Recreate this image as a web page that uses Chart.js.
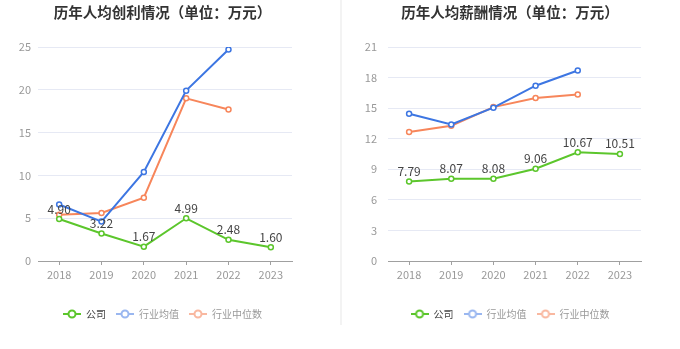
<!DOCTYPE html>
<html>
<head>
<meta charset="utf-8">
<script src="https://cdn.jsdelivr.net/npm/chart.js@4.4.1/dist/chart.umd.min.js"></script>
<style>
  html, body { margin: 0; padding: 0; background: #fff; }
  #wrap { position: relative; width: 680px; height: 349px; overflow: hidden; }
  .panel { position: absolute; top: 0; height: 349px; }
  #divider { position: absolute; left: 340px; top: 0; width: 2px; height: 325px; background: #f3f3f3; }
</style>
</head>
<body>
<div id="wrap">
  <div class="panel" style="left:0;width:325px"><canvas id="profitChart"></canvas></div>
  <div id="divider"></div>
  <div class="panel" style="left:345px;width:330px"><canvas id="salaryChart"></canvas></div>
</div>
<script>
const years = ['2018', '2019', '2020', '2021', '2022', '2023'];
const seriesNames = ['公司', '行业均值', '行业中位数'];

// 人均创利 (万元)
const profitCompany = [4.90, 3.22, 1.67, 4.99, 2.48, 1.60];
const profitIndustryAvg = [6.6, 4.6, 10.4, 19.9, 24.7, null];
const profitIndustryMedian = [5.4, 5.6, 7.4, 19.0, 17.7, null];
const profitTicks = [0, 5, 10, 15, 20, 25];

// 人均薪酬 (万元)
const salaryCompany = [7.79, 8.07, 8.08, 9.06, 10.67, 10.51];
const salaryIndustryAvg = [14.45, 13.4, 15.05, 17.2, 18.7, null];
const salaryIndustryMedian = [12.65, 13.28, 15.1, 16.0, 16.35, null];
const salaryTicks = [0, 3, 6, 9, 12, 15, 18, 21];

const COLORS = ['#5cc62c', '#3d76e2', '#f7865b'];
const LEGEND_ICON = ['#5cc62c', '#9ab7f0', '#f9b8a0'];
const LEGEND_TEXT = ['#444', '#999', '#999'];
const FONT = '"Noto Sans CJK SC", "Noto Sans", sans-serif';

// small line-with-circle icon for the legend
function legendIcon(color) {
    const c = document.createElement('canvas');
    c.width = 18; c.height = 10;
    const g = c.getContext('2d');
    g.strokeStyle = color;
    g.lineWidth = 2;
    g.beginPath(); g.moveTo(0, 5); g.lineTo(18, 5); g.stroke();
    g.fillStyle = '#fff';
    g.beginPath(); g.arc(9, 5, 3.5, 0, Math.PI * 2); g.fill(); g.stroke();
    return c;
}
const icons = LEGEND_ICON.map(legendIcon);

// value labels above the company line
const companyLabels = {
    id: 'companyLabels',
    afterDatasetsDraw(chart) {
        const meta = chart.getDatasetMeta(0);
        const ctx = chart.ctx;
        ctx.save();
        ctx.font = '12px ' + FONT;
        ctx.fillStyle = '#444';
        ctx.textAlign = 'center';
        ctx.textBaseline = 'bottom';
        meta.data.forEach((pt, i) => {
            const v = chart.data.datasets[0].data[i];
            if (v == null) return;
            ctx.fillText(v.toFixed(2), pt.x, pt.y - 4);
        });
        ctx.restore();
    }
};

function makeDataset(label, data, i) {
    return {
        label: label,
        data: data,
        borderColor: COLORS[i],
        backgroundColor: '#fff',
        borderWidth: 2,
        pointRadius: 2.5,
        pointBorderWidth: 1.5,
        pointBackgroundColor: '#fff',
        pointBorderColor: COLORS[i],
        tension: 0,
        spanGaps: false
    };
}

function buildChart(canvasId, title, company, avg, median, ticks, yWidth, tickPad, rightGap) {
    const max = ticks[ticks.length - 1];
    const step = ticks[1] - ticks[0];
    return new Chart(document.getElementById(canvasId), {
        type: 'line',
        data: {
            labels: years,
            datasets: [
                makeDataset(seriesNames[0], company, 0),
                makeDataset(seriesNames[1], avg, 1),
                makeDataset(seriesNames[2], median, 2)
            ]
        },
        options: {
            responsive: true,
            maintainAspectRatio: false,
            animation: false,
            layout: { padding: { left: 0, right: 0, top: 0, bottom: 20 } },
            plugins: {
                title: {
                    display: true,
                    text: title,
                    color: '#333',
                    font: { family: FONT, size: 14.5, weight: 'bold' },
                    padding: { top: 4, bottom: 25.6 }
                },
                legend: {
                    position: 'bottom',
                    labels: {
                        usePointStyle: true,
                        pointStyleWidth: 18,
                        padding: 10,
                        font: { family: FONT, size: 10 },
                        generateLabels: chart => chart.data.datasets.map((ds, i) => ({
                            text: ds.label,
                            pointStyle: icons[i],
                            fillStyle: LEGEND_ICON[i],
                            strokeStyle: LEGEND_ICON[i],
                            lineWidth: 0,
                            fontColor: LEGEND_TEXT[i],
                            hidden: !chart.isDatasetVisible(i),
                            datasetIndex: i
                        }))
                    }
                },
                tooltip: { enabled: false }
            },
            scales: {
                x: {
                    offset: true,
                    grid: {
                        display: true,
                        drawOnChartArea: false,
                        drawTicks: true,
                        tickLength: 4,
                        color: '#a0a0a0',
                        offset: false
                    },
                    border: { display: true, color: '#a0a0a0', width: 1 },
                    ticks: { color: '#999', padding: 3, font: { family: FONT, size: 11 } },
                    afterFit: scale => { scale.height = 38; }
                },
                y: {
                    min: 0,
                    max: max,
                    ticks: {
                        stepSize: step,
                        color: '#999',
                        padding: tickPad,
                        font: { family: FONT, size: 11 }
                    },
                    grid: {
                        drawTicks: false,
                        color: c => c.tick && c.tick.value === 0 ? 'rgba(0,0,0,0)' : '#e6e9f4'
                    },
                    border: { display: false },
                    afterFit: scale => { scale.width = yWidth; }
                },
                // empty right-hand axis that only reserves space, so title and legend stay centred on the canvas
                gap: {
                    position: 'right',
                    ticks: { display: false },
                    grid: { display: false },
                    border: { display: false },
                    afterFit: scale => { scale.width = rightGap; }
                }
            }
        },
        plugins: [companyLabels]
    });
}

buildChart('profitChart', '历年人均创利情况（单位：万元）',
    profitCompany, profitIndustryAvg, profitIndustryMedian, profitTicks, 38, 7, 33);
buildChart('salaryChart', '历年人均薪酬情况（单位：万元）',
    salaryCompany, salaryIndustryAvg, salaryIndustryMedian, salaryTicks, 43, 11, 34);
</script>
</body>
</html>
